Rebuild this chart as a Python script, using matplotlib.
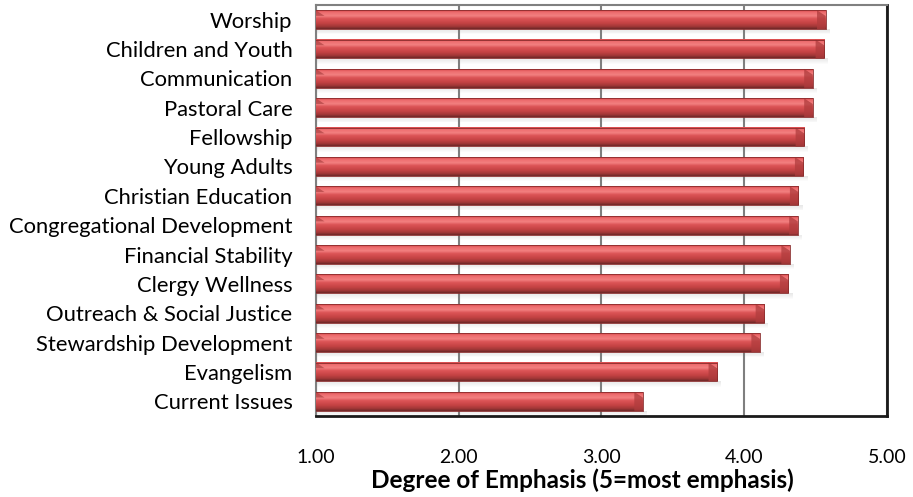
import numpy as np
import matplotlib
matplotlib.use('Agg')
import matplotlib.pyplot as plt
from matplotlib.colors import to_rgb

categories = ['Worship', 'Children and Youth', 'Communication', 'Pastoral Care',
              'Fellowship', 'Young Adults', 'Christian Education',
              'Congregational Development', 'Financial Stability', 'Clergy Wellness',
              'Outreach & Social Justice', 'Stewardship Development', 'Evangelism',
              'Current Issues']
values = [4.57, 4.56, 4.48, 4.48, 4.42, 4.415, 4.38, 4.375, 4.32, 4.31,
          4.14, 4.11, 3.81, 3.29]
xticks = [1.0, 2.0, 3.0, 4.0, 5.0]

plt.rcParams['font.family'] = ['Lato', 'DejaVu Sans']

fig = plt.figure(figsize=(9.13, 4.97), dpi=100)
ax = fig.add_axes([0.3461, 0.163, 0.6254, 0.827])

# vertical colour profile of the bevelled bars (top -> bottom)
stops = [(0.0, '#d94a4c'), (0.12, '#ee6e70'), (0.3, '#f28080'), (0.45, '#dc5456'),
         (0.7, '#c44243'), (0.88, '#a03737'), (1.0, '#6f2727')]
n = 40
pos = np.linspace(0, 1, n)
grad = np.zeros((n, 1, 3))
for c in range(3):
    grad[:, 0, c] = np.interp(pos, [s[0] for s in stops], [to_rgb(s[1])[c] for s in stops])

h = 0.64
y = np.arange(len(categories))
for yi, v in zip(y, values):
    top, bot = yi - h / 2, yi + h / 2
    # soft shadow under the bar
    for k in range(6):
        ax.fill_between([1, v + 0.03], bot + k * 0.03, bot + (k + 1) * 0.03,
                        color='#808080', alpha=0.18 * (1 - k / 6), lw=0, zorder=2)
    ax.imshow(grad, extent=[1, v, bot, top], aspect='auto',
              interpolation='bilinear', zorder=3)
    # bevelled ends
    bw = 0.06
    ax.fill([v - bw, v, v, v - bw], [top, top + 0.3 * h, bot, bot],
            color='#b03c3d', alpha=0.75, lw=0, zorder=4)
    ax.fill([1, 1 + bw, 1], [top, top + 0.3 * h, top + 0.3 * h],
            color='#a33838', alpha=0.6, lw=0, zorder=4)
    ax.plot([1, v, v, 1], [top, top, bot, bot], color='#8a2c2c', lw=0.6, zorder=5)

ax.set_xlim(1, 5)
ax.set_ylim(len(categories) - 0.5, -0.5)
ax.set_yticks(y)
ax.set_yticklabels(categories, fontsize=15.8)
ax.set_xticks(xticks)
ax.set_xticklabels(['%.2f' % t for t in xticks], fontsize=14)
ax.tick_params(axis='both', length=0)
ax.tick_params(axis='x', pad=24)
ax.tick_params(axis='y', pad=17)
ax.set_xlabel('Degree of Emphasis (5=most emphasis)', fontsize=17.5, fontweight='bold')
ax.xaxis.set_label_coords(0.466, -0.128)

ax.grid(axis='x', color='#7f7f7f', lw=1.5, zorder=1)
ax.set_axisbelow(True)
for s in ['left', 'top']:
    ax.spines[s].set_color('#808080')
    ax.spines[s].set_linewidth(1.5)
for s in ['right', 'bottom']:
    ax.spines[s].set_color('#1a1a1a')
    ax.spines[s].set_linewidth(2)

fig.savefig('out.png', dpi=100)
